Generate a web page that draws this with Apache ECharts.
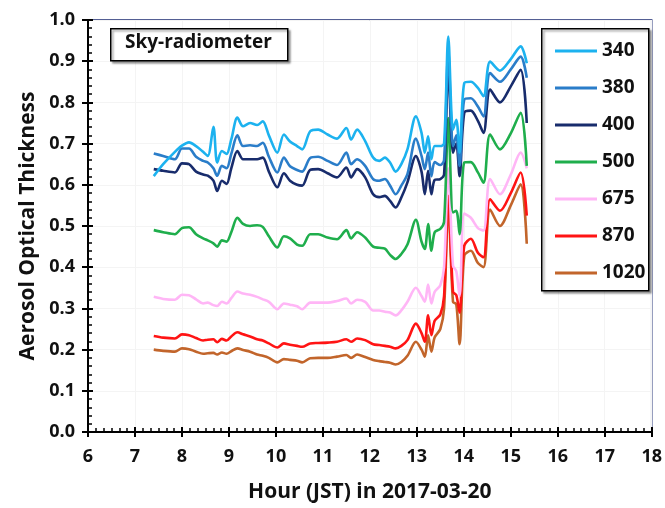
<!DOCTYPE html>
<html>
<head>
<meta charset="utf-8">
<script src="https://cdn.jsdelivr.net/npm/echarts@6/dist/echarts.min.js"></script>
<style>html,body{margin:0;padding:0;background:#fff;}#c{width:665px;height:508px;}</style>
</head>
<body>
<div id="c"></div>
<script>
var hours = [7.4,7.6,7.85,8.0,8.15,8.3,8.45,8.55,8.67,8.75,8.85,8.95,9.05,9.18,9.3,9.45,9.6,9.72,9.85,10.03,10.17,10.3,10.45,10.56,10.73,10.9,11.1,11.3,11.5,11.6,11.73,11.9,12.07,12.2,12.32,12.43,12.55,12.67,12.8,12.98,13.1,13.17,13.24,13.31,13.38,13.5,13.58,13.67,13.77,13.84,13.91,14.01,14.15,14.3,14.42,14.56,14.77,15.0,15.21,15.34];
var aot340 = [0.621,0.650,0.680,0.695,0.703,0.694,0.680,0.670,0.741,0.654,0.682,0.675,0.710,0.763,0.742,0.750,0.745,0.754,0.720,0.678,0.722,0.705,0.694,0.686,0.730,0.734,0.722,0.712,0.738,0.710,0.734,0.706,0.666,0.658,0.666,0.654,0.632,0.650,0.686,0.766,0.726,0.678,0.718,0.662,0.694,0.694,0.700,0.960,0.734,0.758,0.678,0.847,0.850,0.835,0.815,0.899,0.877,0.905,0.936,0.895];
var aot380 = [0.676,0.670,0.662,0.688,0.688,0.668,0.658,0.654,0.640,0.622,0.646,0.640,0.675,0.720,0.694,0.696,0.694,0.702,0.668,0.630,0.666,0.645,0.636,0.632,0.665,0.668,0.658,0.648,0.678,0.650,0.662,0.646,0.614,0.610,0.614,0.598,0.577,0.598,0.626,0.712,0.670,0.638,0.678,0.621,0.655,0.648,0.660,0.925,0.694,0.720,0.646,0.807,0.810,0.790,0.766,0.871,0.850,0.880,0.911,0.860];
var aot400 = [0.638,0.634,0.630,0.652,0.650,0.632,0.625,0.622,0.610,0.585,0.610,0.602,0.640,0.682,0.662,0.662,0.662,0.666,0.632,0.594,0.628,0.610,0.600,0.598,0.636,0.638,0.628,0.618,0.642,0.618,0.638,0.618,0.577,0.570,0.573,0.561,0.545,0.569,0.606,0.670,0.632,0.577,0.634,0.577,0.612,0.614,0.625,0.885,0.678,0.700,0.621,0.775,0.780,0.755,0.726,0.831,0.800,0.839,0.879,0.750];
var aot500 = [0.490,0.485,0.480,0.495,0.497,0.480,0.470,0.465,0.458,0.450,0.465,0.462,0.485,0.520,0.505,0.500,0.502,0.498,0.475,0.448,0.475,0.470,0.455,0.452,0.480,0.480,0.472,0.468,0.490,0.470,0.485,0.472,0.450,0.447,0.445,0.430,0.420,0.432,0.455,0.515,0.462,0.444,0.505,0.440,0.485,0.493,0.510,0.762,0.533,0.537,0.480,0.654,0.655,0.630,0.605,0.722,0.686,0.725,0.775,0.646];
var aot675 = [0.328,0.323,0.321,0.333,0.332,0.322,0.312,0.314,0.308,0.306,0.316,0.312,0.325,0.341,0.336,0.333,0.328,0.322,0.316,0.298,0.312,0.309,0.305,0.298,0.314,0.314,0.314,0.318,0.324,0.312,0.321,0.316,0.295,0.295,0.292,0.290,0.283,0.295,0.316,0.350,0.330,0.316,0.358,0.312,0.340,0.356,0.400,0.640,0.404,0.390,0.330,0.530,0.520,0.495,0.489,0.614,0.577,0.625,0.678,0.640];
var aot870 = [0.233,0.229,0.227,0.237,0.235,0.228,0.222,0.224,0.225,0.218,0.226,0.222,0.232,0.242,0.237,0.232,0.225,0.222,0.215,0.205,0.215,0.212,0.209,0.207,0.215,0.216,0.217,0.219,0.225,0.219,0.227,0.223,0.213,0.211,0.209,0.207,0.203,0.209,0.223,0.263,0.240,0.219,0.283,0.235,0.270,0.285,0.330,0.573,0.340,0.332,0.290,0.452,0.469,0.435,0.424,0.565,0.537,0.580,0.630,0.525];
var aot1020 = [0.200,0.197,0.195,0.203,0.201,0.195,0.190,0.191,0.192,0.188,0.193,0.190,0.196,0.203,0.199,0.195,0.188,0.185,0.180,0.169,0.177,0.175,0.173,0.169,0.179,0.180,0.180,0.183,0.187,0.180,0.188,0.182,0.175,0.172,0.170,0.168,0.164,0.170,0.185,0.219,0.200,0.183,0.235,0.195,0.230,0.250,0.300,0.550,0.316,0.310,0.213,0.428,0.440,0.410,0.400,0.540,0.500,0.550,0.601,0.457];
var seriesNames = ['340','380','400','500','675','870','1020'];
var seriesData = [aot340,aot380,aot400,aot500,aot675,aot870,aot1020];
var colors = ['#1cb2ef','#2a7dc9','#182c6c','#1fae4c','#ffb6f6','#ff1414','#c2652b'];
var xTicks = [6,18,1];
var yTicks = [0,1,0.1];

var FONT = '"Open Sans", "DejaVu Sans", sans-serif';
var chart = echarts.init(document.getElementById('c'), null, {renderer:'canvas'});
var series = seriesNames.map(function(n, i){
  return {
    name: n, type: 'line', xAxisIndex: 0, yAxisIndex: 0,
    data: hours.map(function(h, j){ return [h, seriesData[i][j]]; }),
    showSymbol: false, symbol: 'none', smooth: 0.3,
    lineStyle: {color: colors[i], width: 2.6},
    itemStyle: {color: colors[i]},
    z: 10 - i
  };
});
var labelStyle = {color:'#111', fontFamily: FONT, fontWeight: 'bold', fontSize: 18};
chart.setOption({
  animation: false,
  backgroundColor: '#fff',
  grid: {left: 88, right: 10, top: 20, bottom: 74, show: true, borderColor: '#1c2b72', borderWidth: 1.5, backgroundColor: 'transparent'},
  legend: {
    data: seriesNames, orient: 'vertical', left: 550, top: 35,
    icon: 'rect', itemWidth: 42, itemHeight: 3, itemGap: 15,
    textStyle: {color:'#111', fontFamily: FONT, fontWeight:'bold', fontSize: 19, lineHeight: 22, padding:[0,0,0,0]},
    selectedMode: false
  },
  xAxis: [{
    type: 'value', min: xTicks[0], max: xTicks[1], interval: xTicks[2], position: 'bottom',
    name: 'Hour (JST) in 2017-03-20', nameLocation: 'middle', nameGap: 50,
    nameTextStyle: {color:'#111', fontFamily: FONT, fontWeight:'bold', fontSize: 21},
    axisLine: {show: true, onZero: false, lineStyle: {color:'#000', width: 2}},
    axisTick: {show: true, inside: true, length: 5, lineStyle: {color:'#000', width: 2}},
    minorTick: {show: true, splitNumber: 6, length: 4, lineStyle: {color:'#000', width: 1.5}},
    axisLabel: Object.assign({margin: 16}, labelStyle),
    splitLine: {show: true, lineStyle: {color: '#f4f4f4', width: 1}}
  }, {
    type: 'value', min: xTicks[0], max: xTicks[1], interval: xTicks[2], position: 'bottom',
    axisLine: {show: false}, axisLabel: {show: false}, splitLine: {show:false},
    axisTick: {show: true, inside: false, length: 5, lineStyle: {color:'#000', width: 2}}
  }],
  yAxis: [{
    type: 'value', min: yTicks[0], max: yTicks[1], interval: yTicks[2], position: 'left',
    name: 'Aerosol Optical Thickness', nameLocation: 'middle', nameGap: 48,
    nameTextStyle: {color:'#111', fontFamily: FONT, fontWeight:'bold', fontSize: 21},
    axisLine: {show: true, onZero: false, lineStyle: {color:'#000', width: 2}},
    axisTick: {show: true, inside: true, length: 5, lineStyle: {color:'#000', width: 2}},
    minorTick: {show: true, splitNumber: 5, length: 4, lineStyle: {color:'#000', width: 1.5}},
    axisLabel: Object.assign({margin: 13, formatter: function(v){ return v.toFixed(1); }}, labelStyle),
    splitLine: {show: true, lineStyle: {color: '#f4f4f4', width: 1}}
  }, {
    type: 'value', min: yTicks[0], max: yTicks[1], interval: yTicks[2], position: 'left',
    axisLine: {show: false}, axisLabel: {show: false}, splitLine: {show:false},
    axisTick: {show: true, inside: false, length: 6, lineStyle: {color:'#000', width: 2}}
  }],
  graphic: [
    {type:'rect', left: 110, top: 28, shape:{width: 177, height: 32},
     style:{fill:'#fff', stroke:'#000', lineWidth: 1.5, shadowColor:'rgba(0,0,0,0.35)', shadowOffsetX: 2, shadowOffsetY: 2, shadowBlur: 2}, z: 20},
    {type:'text', left: 125, top: 33, style:{text:'Sky-radiometer', fill:'#111', font:'bold 19px ' + FONT}, z: 21},
    {type:'rect', left: 541, top: 28, shape:{width: 107, height: 262},
     style:{fill:'#fff', stroke:'#000', lineWidth: 1.5, shadowColor:'rgba(0,0,0,0.35)', shadowOffsetX: 2, shadowOffsetY: 2, shadowBlur: 2}, z: 1}
  ],
  series: series
});
</script>
</body>
</html>
